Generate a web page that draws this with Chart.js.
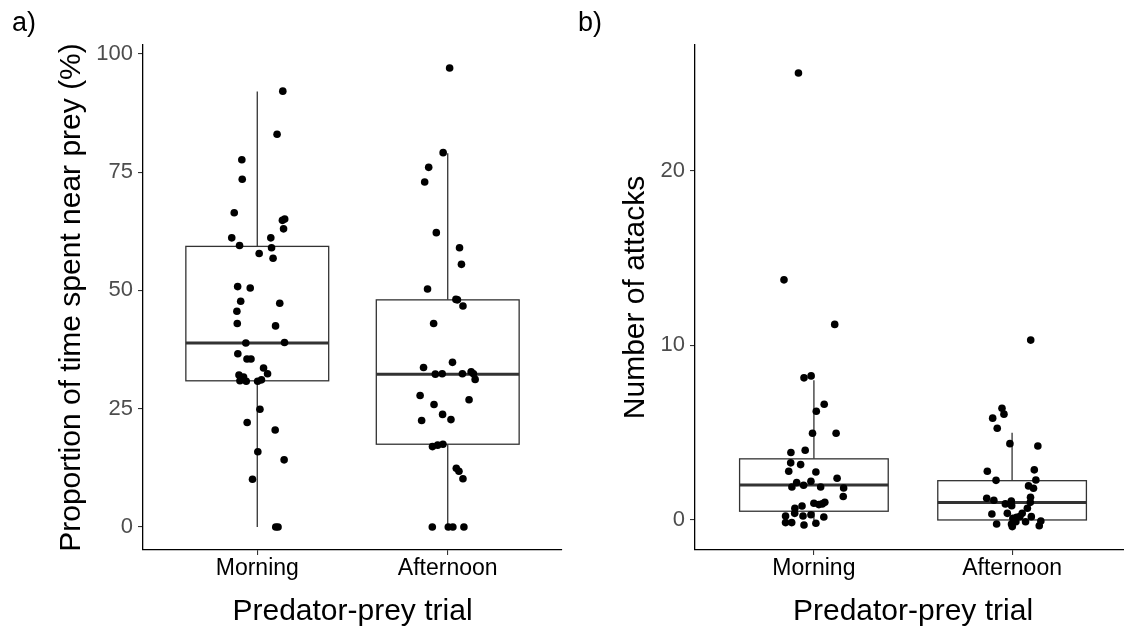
<!DOCTYPE html>
<html>
  <head>
    <script src="https://cdn.jsdelivr.net/npm/chart.js@4.4.1/dist/chart.umd.min.js"></script>
    <style>
      body { margin: 0; width: 1124px; height: 635px; overflow: hidden; position: relative; background: #fff; }
      canvas { position: absolute; top: 0; }
    </style>
  </head>

  <body>
    <canvas id="panelA" width="570" height="635" style="left: 0"></canvas>
    <canvas id="panelB" width="580" height="635" style="left: 560px"></canvas>
    <script>
      const groups = ['Morning', 'Afternoon'];
      const timeTicks = [0, 25, 50, 75, 100];
      const attackTicks = [0, 10, 20];

      // five-number summaries: lower whisker, Q1, median, Q3, upper whisker
      const timeBoxMorning = [0, 30.9, 38.9, 59.3, 92.0];
      const timeBoxAfternoon = [0, 17.5, 32.3, 48.0, 79.0];
      const attackBoxMorning = [0, 0.5, 2.0, 3.5, 8.0];
      const attackBoxAfternoon = [0, 0, 1.0, 2.25, 5.0];

      // jittered points (x position around the group, y value)
      const timeMorningX = [1.134, 1.104, 0.919, 0.921, 0.879, 1.132, 1.144, 1.138, 0.866, 1.071, 0.907, 1.075, 1.010, 1.083, 0.897, 0.963, 0.913, 1.118, 0.893, 0.895, 1.096, 0.940, 1.143, 0.898, 0.946, 0.967, 1.033, 1.054, 0.904, 0.928, 0.909, 0.942, 1.002, 1.022, 1.014, 0.947, 1.094, 1.003, 1.141, 0.975, 1.097, 1.109];
      const timeMorning = [92.1, 83.0, 77.6, 73.5, 66.4, 64.8, 65.1, 63.0, 61.1, 61.1, 59.5, 59.0, 57.8, 56.8, 50.8, 50.5, 47.7, 47.3, 45.6, 43.0, 42.5, 38.9, 39.0, 36.6, 35.5, 35.5, 33.6, 32.4, 32.1, 31.7, 30.9, 30.8, 30.8, 31.1, 24.9, 22.1, 20.5, 15.9, 14.2, 10.1, 0, 0];
      const timeAfternoonX = [2.010, 1.976, 1.900, 1.879, 1.940, 2.062, 2.072, 1.894, 2.043, 2.051, 2.080, 1.926, 1.873, 2.025, 1.935, 1.971, 2.077, 2.123, 2.135, 2.144, 1.855, 2.112, 1.928, 1.973, 1.863, 2.017, 1.920, 1.947, 1.975, 2.045, 2.059, 2.080, 1.919, 2.003, 2.027, 2.085];
      const timeAfternoon = [97.0, 79.1, 76.0, 72.9, 62.2, 59.0, 55.5, 50.3, 48.1, 48.0, 46.7, 43.0, 33.7, 34.8, 32.3, 32.4, 32.4, 32.8, 32.4, 31.2, 27.8, 26.9, 25.9, 23.8, 22.5, 22.7, 17.0, 17.3, 17.5, 12.4, 11.8, 10.2, 0, 0, 0, 0];

      const attackMorningX = [0.922, 0.849, 1.105, 0.950, 0.986, 1.052, 1.012, 0.993, 1.112, 0.884, 0.956, 0.883, 0.933, 0.873, 1.010, 1.117, 0.913, 0.889, 0.948, 0.985, 1.034, 1.150, 1.148, 1.000, 1.025, 1.055, 1.042, 0.904, 0.940, 0.903, 0.857, 0.985, 0.945, 1.050, 0.857, 0.888, 0.950, 1.010];
      const attackMorning = [25.6, 13.75, 11.2, 8.14, 8.25, 6.63, 6.23, 4.97, 4.97, 3.86, 3.99, 3.27, 3.17, 2.79, 2.75, 2.39, 2.14, 1.89, 1.99, 2.22, 1.89, 1.83, 1.34, 0.96, 0.88, 1.01, 0.92, 0.67, 0.80, 0.38, 0.23, 0.30, 0.23, 0.17, -0.15, -0.15, -0.29, -0.19];
      const attackAfternoonX = [2.094, 1.949, 1.959, 1.902, 1.925, 1.989, 2.130, 1.875, 2.112, 1.919, 2.120, 2.083, 2.108, 1.872, 1.908, 1.966, 1.996, 1.998, 2.093, 2.092, 2.077, 1.898, 1.976, 2.051, 2.039, 2.023, 2.004, 2.097, 2.068, 2.145, 2.137, 1.922, 1.997, 2.001, 2.019];
      const attackAfternoon = [10.3, 6.40, 6.06, 5.83, 5.25, 4.37, 4.24, 2.79, 2.87, 2.27, 2.29, 1.95, 1.82, 1.24, 1.13, 0.92, 1.09, 0.82, 1.30, 1.01, 0.67, 0.34, 0.38, 0.38, 0.19, 0.15, 0.10, 0.19, -0.10, -0.06, -0.33, -0.23, -0.23, -0.38, -0.10];

      Chart.defaults.font.family = "'Liberation Sans', Arial, sans-serif";

      const pts = (xs, ys) => ys.map((v, i) => ({ x: xs[i], y: v }));

      // boxes + whiskers drawn under the points, using the chart's scales
      function boxPlugin(stats) {
        return {
          id: 'boxes',
          beforeDatasetsDraw(chart) {
            const { ctx, scales: { x, y } } = chart;
            stats.forEach((s, i) => {
              const cx = x.getPixelForValue(i + 1);
              const hw = x.getPixelForValue(i + 1 + 0.375) - cx;
              const [lo, q1, med, q3, hi] = s.map((v) => y.getPixelForValue(v));
              ctx.save();
              ctx.strokeStyle = '#333333';
              ctx.lineWidth = 1.3;
              ctx.beginPath();
              ctx.moveTo(cx, q3);
              ctx.lineTo(cx, hi);
              ctx.moveTo(cx, q1);
              ctx.lineTo(cx, lo);
              ctx.stroke();
              ctx.fillStyle = '#ffffff';
              ctx.fillRect(cx - hw, q3, 2 * hw, q1 - q3);
              ctx.strokeRect(cx - hw, q3, 2 * hw, q1 - q3);
              ctx.lineWidth = 3;
              ctx.beginPath();
              ctx.moveTo(cx - hw, med);
              ctx.lineTo(cx + hw, med);
              ctx.stroke();
              ctx.restore();
            });
          },
        };
      }

      function makePanel(id, p) {
        const axisGrid = { drawOnChartArea: false, tickLength: 5, color: '#333333', lineWidth: 1.1 };
        const axisBorder = { color: '#000000', width: 1.3 };
        return new Chart(document.getElementById(id), {
          type: 'scatter',
          data: {
            datasets: [
              { data: pts(p.mx, p.my) },
              { data: pts(p.ax, p.ay) },
            ],
          },
          plugins: [boxPlugin(p.boxes)],
          options: {
            responsive: false,
            animation: false,
            devicePixelRatio: 1,
            events: [],
            layout: { padding: { left: p.padLeft, right: p.padRight, top: 0, bottom: 0 } },
            elements: { point: { radius: 3.8, backgroundColor: '#000000', borderWidth: 0 } },
            plugins: {
              legend: { display: false },
              tooltip: { enabled: false },
              title: {
                display: true,
                text: p.tag,
                align: 'start',
                color: '#000000',
                font: { size: 27, weight: 'normal', lineHeight: 1 },
                padding: { top: 10, bottom: 8 },
              },
            },
            scales: {
              x: {
                type: 'linear',
                min: 0.4,
                max: 2.6,
                afterBuildTicks: (s) => { s.ticks = [{ value: 1 }, { value: 2 }]; },
                afterFit: (s) => { s.height = 85; },
                ticks: {
                  color: '#000000',
                  font: { size: 23, lineHeight: 1 },
                  padding: 2,
                  callback: (v) => groups[Math.round(v) - 1],
                },
                grid: axisGrid,
                border: axisBorder,
                title: {
                  display: true,
                  text: 'Predator-prey trial',
                  color: '#000000',
                  font: { size: 30, lineHeight: 1 },
                  padding: { top: 0, bottom: 8 },
                },
              },
              y: {
                min: p.yMin,
                max: p.yMax,
                afterBuildTicks: (s) => { s.ticks = p.yTicks.map((v) => ({ value: v })); },
                afterFit: (s) => { s.width = p.yWidth; },
                ticks: { color: '#4D4D4D', font: { size: 22, lineHeight: 1 }, padding: 5 },
                grid: axisGrid,
                border: axisBorder,
                title: {
                  display: true,
                  text: p.yTitle,
                  color: '#000000',
                  font: { size: 30, lineHeight: 1 },
                  padding: { top: p.yTitlePad, bottom: 0 },
                },
              },
            },
          },
        });
      }

      makePanel('panelA', {
        tag: 'a)',
        mx: timeMorningX, my: timeMorning,
        ax: timeAfternoonX, ay: timeAfternoon,
        boxes: [timeBoxMorning, timeBoxAfternoon],
        yTicks: timeTicks, yMin: -4.85, yMax: 101.85,
        yTitle: 'Proportion of time spent near prey (%)',
        padLeft: 12, padRight: 8, yWidth: 131, yTitlePad: 45,
      });

      makePanel('panelB', {
        tag: 'b)',
        mx: attackMorningX, my: attackMorning,
        ax: attackAfternoonX, ay: attackAfternoon,
        boxes: [attackBoxMorning, attackBoxAfternoon],
        yTicks: attackTicks, yMin: -1.72, yMax: 27.2,
        yTitle: 'Number of attacks',
        padLeft: 18, padRight: 9, yWidth: 117, yTitlePad: 43,
      });
    </script>
  </body>
</html>
